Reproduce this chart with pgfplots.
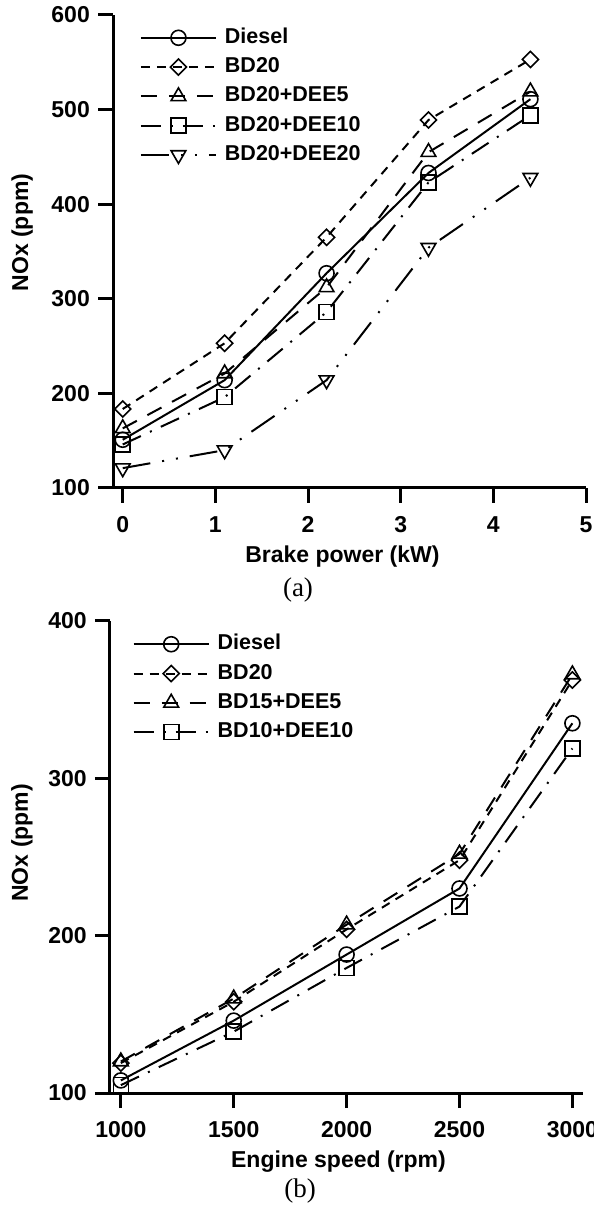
\documentclass[border=0pt]{standalone}
\usepackage{fontspec}
\setmainfont{Liberation Sans}
\newfontfamily\timesf{Liberation Serif}
\usepackage{pgfplots}
\pgfplotsset{compat=1.18}

\pgfplotsset{
  nox/.style={
    scale only axis,
    axis lines*=left,
    axis line style={line width=3pt, black},
    tick align=outside,
    major tick length=15pt,
    every tick/.style={line width=3pt, black},
    minor tick num=0,
    /pgf/number format/assume math mode=true,
    tick label style={font=\fontsize{23}{27}\selectfont\bfseries},
    xticklabel style={anchor=north, inner sep=0pt, yshift=-13pt},
    yticklabel style={anchor=east, inner sep=0pt, xshift=-8pt},
    label style={font=\fontsize{23}{27}\selectfont\bfseries},
    clip=false,
    legend cell align=left,
    legend style={draw=none, fill=none, inner sep=0pt, outer sep=0pt,
      font=\fontsize{21.5}{25}\selectfont\bfseries,
      row sep=8.3pt,
      nodes={inner sep=1pt, text height=15pt, text depth=4pt},
      /tikz/every odd column/.append style={column sep=7pt}},
    legend image code/.code={%
      \draw[mark repeat=2,mark phase=2,#1] plot coordinates {(0pt,0pt) (37.5pt,0pt) (75pt,0pt)};},
  },
  s1/.style={black, line width=2pt, solid, mark=o, mark size=7.5pt, mark options={solid, line width=1.6pt}},
  s2/.style={black, line width=2pt, dash pattern=on 9pt off 7pt, mark=square, mark size=5.7pt, mark options={solid, line width=1.6pt, rotate=45}},
  s3/.style={black, line width=2pt, dash pattern=on 16pt off 12pt, mark=triangle, mark size=8.5pt, mark options={solid, line width=1.6pt}},
  s4/.style={black, line width=2pt, dash pattern=on 20pt off 10pt on 2pt off 10pt, mark=square, mark size=7.5pt, mark options={solid, line width=1.6pt}},
  s5/.style={black, line width=2pt, dash pattern=on 28pt off 12pt on 2pt off 12pt on 2pt off 12pt, mark=triangle, mark size=8.5pt, mark options={solid, line width=1.6pt, rotate=180}},
}

\begin{document}
\begin{tikzpicture}[x=1pt,y=1pt]
% ---------------- (a) ----------------
\begin{axis}[nox,
  at={(113pt,722pt)}, anchor=south west,
  width=473pt, height=473pt,
  xmin=-0.105, xmax=5, ymin=100, ymax=600,
  xtick={0,1,2,3,4,5}, ytick={100,200,300,400,500,600},
  xlabel={Brake power (kW)}, ylabel={NOx (ppm)},
  xlabel style={at={(axis description cs:0.485,0)}, anchor=base, yshift=-75pt},
  ylabel style={at={(axis description cs:-0.192,0.54)}, anchor=center},
  legend style={at={(axis description cs:0.057,0.974)}, anchor=north west},
]
\addplot[s1] coordinates {(0,151) (1.1,214) (2.2,327) (3.3,433) (4.4,511)};
\addlegendentry{Diesel}
\addplot[s2] coordinates {(0,183.5) (1.1,253) (2.2,365) (3.3,489) (4.4,553)};
\addlegendentry{BD20}
\addplot[s3] coordinates {(0,163) (1.1,221) (2.2,312) (3.3,455) (4.4,519)};
\addlegendentry{BD20+DEE5}
\addplot[s4] coordinates {(0,146) (1.1,196) (2.2,286) (3.3,423) (4.4,494)};
\addlegendentry{BD20+DEE10}
\addplot[s5] coordinates {(0,121) (1.1,140) (2.2,214) (3.3,354) (4.4,428)};
\addlegendentry{BD20+DEE20}
\end{axis}
% ---------------- (b) ----------------
\begin{axis}[nox,
  at={(110pt,117pt)}, anchor=south west,
  width=473pt, height=472pt,
  xmin=952, xmax=3047, ymin=100, ymax=400,
  xtick={1000,1500,2000,2500,3000}, ytick={100,200,300,400},
  xticklabel style={/pgf/number format/1000 sep={}},
  xlabel={Engine speed (rpm)}, ylabel={NOx (ppm)},
  xlabel style={at={(axis description cs:0.483,0)}, anchor=base, yshift=-74pt},
  ylabel style={at={(axis description cs:-0.186,0.53)}, anchor=center},
  legend style={at={(axis description cs:0.048,0.973)}, anchor=north west},
]
\addplot[s1] coordinates {(1000,108) (1500,146) (2000,188) (2500,230) (3000,335)};
\addlegendentry{Diesel}
\addplot[s2] coordinates {(1000,119) (1500,158) (2000,204) (2500,248) (3000,362.5)};
\addlegendentry{BD20}
\addplot[s3] coordinates {(1000,120) (1500,160) (2000,207) (2500,252) (3000,366)};
\addlegendentry{BD15+DEE5}
\addplot[s4] coordinates {(1000,105) (1500,139) (2000,179.5) (2500,218.5) (3000,319)};
\addlegendentry{BD10+DEE10}
\end{axis}
\node[font=\timesf\fontsize{27}{30}\selectfont] at (298pt,620pt) {(a)};
\node[font=\timesf\fontsize{27}{30}\selectfont] at (300pt,19pt) {(b)};
\pgfresetboundingbox
\path[use as bounding box] (0,0) rectangle (594pt,1210pt);
\end{tikzpicture}
\end{document}
